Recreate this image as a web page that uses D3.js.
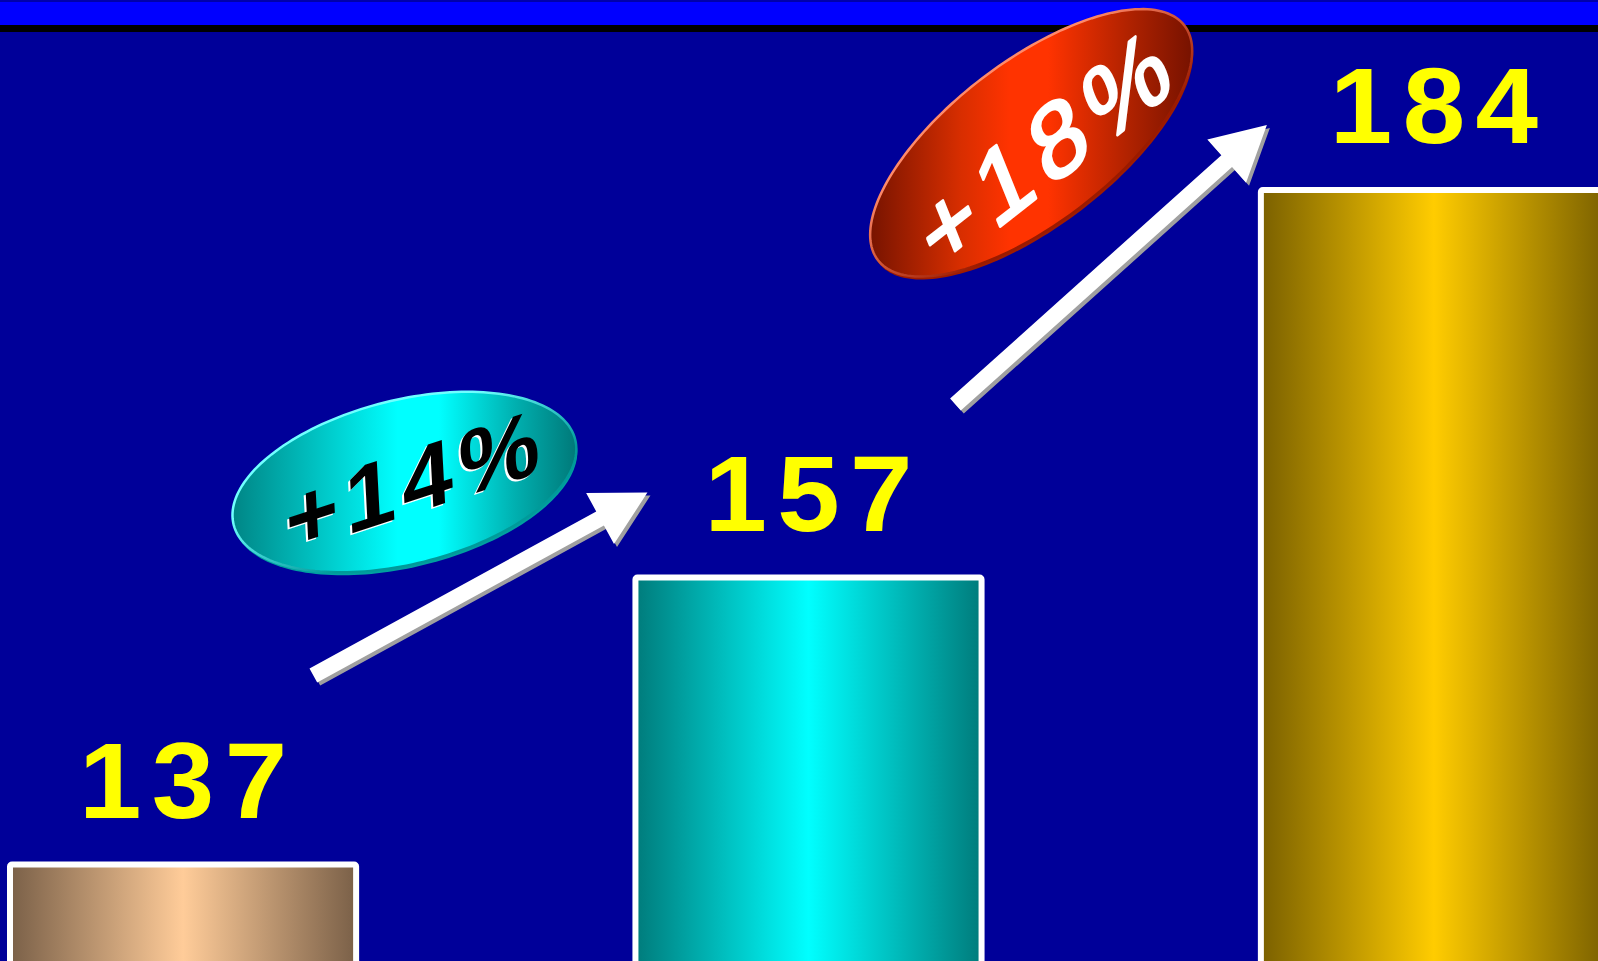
<!DOCTYPE html>
<html>
<head>
<meta charset="utf-8">
<script src="https://cdn.jsdelivr.net/npm/d3@7"></script>
<style>
  html, body { margin: 0; padding: 0; background: #000099; overflow: hidden; }
  svg { display: block; }
</style>
</head>
<body>
<svg id="chart" width="1598" height="961"></svg>
<script>
// ---- data ----
const categories = ["Bar 1", "Bar 2", "Bar 3"];
const values = [137, 157, 184];
const valueLabels = ["137", "157", "184"];
const changeLabels = ["+14%", "+18%"];
const barEdgeColors = ["#7a6048", "#007b7b", "#7a6000"];
const barCenterColors = ["#ffcc99", "#00ffff", "#ffcc00"];

// ---- setup ----
const FONT = '"Liberation Sans"';
const ADV = { "+": 0.584, "%": 0.889 };          // advance widths (em); digits 0.556
const adv = ch => (ADV[ch] !== undefined ? ADV[ch] : 0.556);
const W = 1598, H = 961;
const svg = d3.select("#chart");
const defs = svg.append("defs");

svg.append("rect").attr("width", W).attr("height", H).attr("fill", "#000099");
svg.append("rect").attr("x", 0).attr("y", 0).attr("width", W).attr("height", 2).attr("fill", "#0000aa");
svg.append("rect").attr("x", 0).attr("y", 2).attr("width", W).attr("height", 23).attr("fill", "#0000ff");
svg.append("rect").attr("x", 0).attr("y", 25).attr("width", W).attr("height", 7).attr("fill", "#000000");

// scales (truncated value axis, as in the original)
const x = d3.scaleBand().domain(categories).range([7, 1610]).paddingInner(0.437).paddingOuter(0);
const y = d3.scaleLinear().domain([130, 190]).range([962, 101]);
const bw = x.bandwidth();

categories.forEach((c, i) => {
  const g = defs.append("linearGradient").attr("id", "barg" + i)
    .attr("x1", 0).attr("x2", 1).attr("y1", 0).attr("y2", 0);
  g.append("stop").attr("offset", 0).attr("stop-color", barEdgeColors[i]);
  g.append("stop").attr("offset", 0.5).attr("stop-color", barCenterColors[i]);
  g.append("stop").attr("offset", 1).attr("stop-color", barEdgeColors[i]);
});

svg.append("g").selectAll("rect").data(values).join("rect")
  .attr("x", (d, i) => x(categories[i]) + 3)
  .attr("y", d => y(d) + 3)
  .attr("width", bw - 6)
  .attr("height", d => y(130) - y(d) + 10)
  .attr("rx", 2)
  .attr("fill", (d, i) => `url(#barg${i})`)
  .attr("stroke", "#ffffff")
  .attr("stroke-width", 6);

// spaced text: one <text> per character, centred on the group origin
function spacedText(parent, str, o) {
  const g = parent.append("g");
  const chars = Array.from(str);
  const ws = chars.map(ch => adv(ch) * o.size);
  const total = d3.sum(ws) + o.ls * (chars.length - 1);
  let cur = -total / 2;
  chars.forEach((ch, k) => {
    g.append("text")
      .attr("x", cur + ws[k] / 2)
      .attr("y", 0)
      .attr("dy", o.dy || null)
      .attr("text-anchor", "middle")
      .attr("font-size", o.size)
      .attr("font-weight", o.weight)
      .style("font-family", FONT)
      .attr("fill", o.fill)
      .attr("stroke", o.stroke ? o.fill : "none")
      .attr("stroke-width", o.stroke || null)
      .attr("stroke-linejoin", "round")
      .text(ch);
    cur += ws[k] + o.ls;
  });
  return g;
}

valueLabels.forEach((lab, i) => {
  spacedText(svg, lab, { size: 108, weight: "bold", fill: "#ffff00", ls: 10 })
    .attr("transform", `translate(${x(categories[i]) + bw / 2},${y(values[i]) - 44}) scale(1.04,1)`);
});

// ---- growth arrows ----
function arrowPath(tail, tip, shaftW, headLen, headHalf) {
  const dx = tip[0] - tail[0], dy = tip[1] - tail[1];
  const L = Math.hypot(dx, dy);
  const ux = dx / L, uy = dy / L, nx = -uy, ny = ux;
  const P = (s, t) => [tail[0] + ux * s + nx * t, tail[1] + uy * s + ny * t];
  const pts = [
    P(0, -shaftW / 2), P(L - headLen, -shaftW / 2), P(L - headLen, -headHalf),
    P(L, 0),
    P(L - headLen, headHalf), P(L - headLen, shaftW / 2), P(0, shaftW / 2)
  ];
  return d3.line().curve(d3.curveLinearClosed)(pts);
}
const arrows = [
  { tail: [x(categories[0]) + bw * 0.87, y(values[0]) - 186], tip: [x(categories[1]) + 15, y(values[1]) - 82] },
  { tail: [x(categories[1]) + 323, y(values[1]) - 170], tip: [x(categories[2]) + 9, y(values[2]) - 62] }
];
const ag = svg.append("g");
arrows.forEach(a => {
  ag.append("path").attr("d", arrowPath(a.tail, a.tip, 16, 54, 29))
    .attr("transform", "translate(3,3)").attr("fill", "#a0a0a0");
  ag.append("path").attr("d", arrowPath(a.tail, a.tip, 16, 54, 29)).attr("fill", "#ffffff");
});

// ---- ellipse badges ----
function ellipsePts(cx, cy, a, b, deg) {
  const th = deg * Math.PI / 180, pts = [];
  for (let k = 0; k < 180; k++) {
    const t = 2 * Math.PI * k / 180;
    pts.push([cx + a * Math.cos(t) * Math.cos(th) - b * Math.sin(t) * Math.sin(th),
              cy + a * Math.cos(t) * Math.sin(th) + b * Math.sin(t) * Math.cos(th)]);
  }
  return d3.line().curve(d3.curveLinearClosed)(pts);
}
const badges = [
  { cx: (arrows[0].tail[0] + arrows[0].tip[0]) / 2 - 76, cy: (arrows[0].tail[1] + arrows[0].tip[1]) / 2 - 102,
    a: 176, b: 82, rot: -14, x1: 232, x2: 577,
    stops: [[0, "#008585"], [0.25, "#00c4c4"], [0.48, "#00ffff"], [0.6, "#00ffff"], [0.82, "#00b0b0"], [1, "#007878"]],
    rimLight: "#70ffff", rimDark: "#009a9a", base: "#00a0a0",
    text: { dx: 8, dy: -2, size: 92, weight: "bold", fill: "#000000", shadow: "#ffffff", m: [-18, -3], sx: 1.03, ls: 7, stroke: 0 } },
  { cx: (arrows[1].tail[0] + arrows[1].tip[0]) / 2 - 80, cy: (arrows[1].tail[1] + arrows[1].tip[1]) / 2 - 122,
    a: 193, b: 81, rot: -37.4, x1: 871, x2: 1193,
    stops: [[0, "#781400"], [0.28, "#d82e00"], [0.43, "#ff3300"], [0.55, "#ff3300"], [0.8, "#b02200"], [1, "#761200"]],
    rimLight: "#ff8a6a", rimDark: "#9a1a00", base: "#a01c00",
    text: { dx: 12, dy: 6, size: 100, weight: "normal", fill: "#ffffff", shadow: null, m: [-38, -22], sx: 1.05, ls: 10, stroke: 3 } }
];

badges.forEach((bd, i) => {
  const g = defs.append("linearGradient").attr("id", "elg" + i)
    .attr("gradientUnits", "userSpaceOnUse")
    .attr("x1", bd.x1).attr("x2", bd.x2).attr("y1", 0).attr("y2", 0);
  bd.stops.forEach(s => g.append("stop").attr("offset", s[0]).attr("stop-color", s[1]));
  const rg = defs.append("linearGradient").attr("id", "rim" + i)
    .attr("x1", 0).attr("y1", 0).attr("x2", 1).attr("y2", 1);
  rg.append("stop").attr("offset", 0.35).attr("stop-color", bd.rimLight);
  rg.append("stop").attr("offset", 0.65).attr("stop-color", bd.rimDark);

  const grp = svg.append("g");
  grp.append("path").attr("d", ellipsePts(bd.cx + 1, bd.cy + 3, bd.a, bd.b, bd.rot)).attr("fill", bd.base);
  grp.append("path").attr("d", ellipsePts(bd.cx, bd.cy, bd.a, bd.b, bd.rot))
    .attr("fill", `url(#elg${i})`).attr("stroke", `url(#rim${i})`).attr("stroke-width", 2.5);

  const t = bd.text;
  const ra = t.m[0] * Math.PI / 180, rb = t.m[1] * Math.PI / 180;
  const mat = `matrix(${Math.cos(ra)},${Math.sin(ra)},${-Math.sin(rb)},${Math.cos(rb)},0,0) scale(${t.sx},1)`;
  const tx = bd.cx + t.dx, ty = bd.cy + t.dy;
  const draw = (ox, oy, fill) => spacedText(grp, changeLabels[i],
      { size: t.size, weight: t.weight, fill: fill, ls: t.ls, stroke: t.stroke, dy: "0.36em" })
    .attr("transform", `translate(${tx + ox},${ty + oy}) ${mat}`);
  if (t.shadow) draw(-2, 2, t.shadow);
  draw(0, 0, t.fill);
});
</script>
</body>
</html>
